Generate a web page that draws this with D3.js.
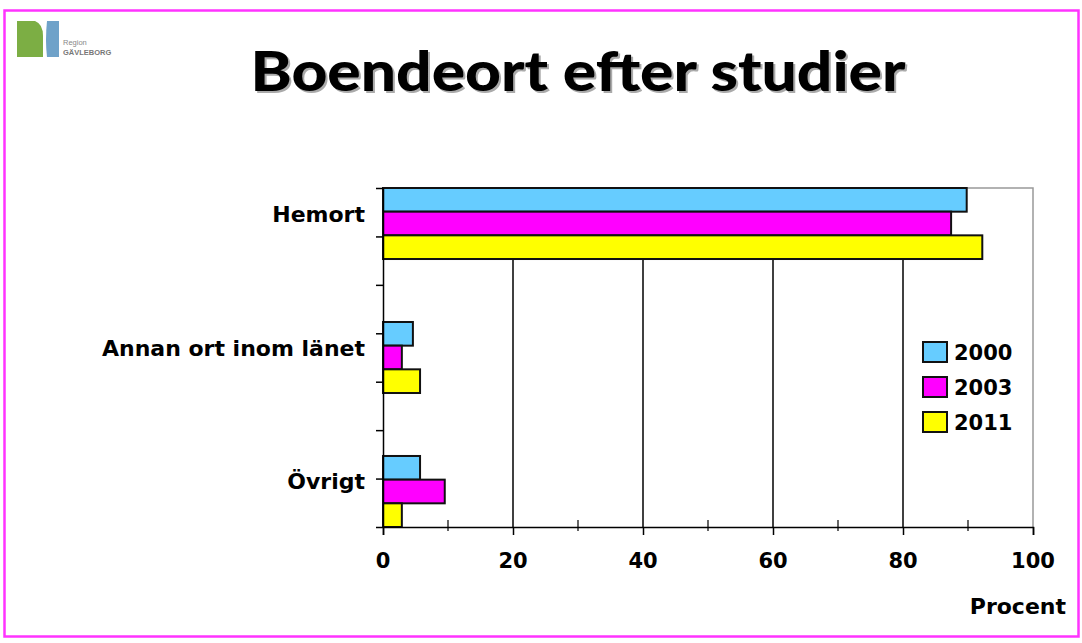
<!DOCTYPE html>
<html>
<head>
<meta charset="utf-8">
<script src="https://cdn.jsdelivr.net/npm/d3@7"></script>
<style>
  body { margin: 0; background: #fff; }
  svg { display: block; }
</style>
</head>
<body>
<svg id="chart" width="1082" height="643"></svg>
<script>
// data
var categories = ["Hemort", "Annan ort inom länet", "Övrigt"];
var years = ["2000", "2003", "2011"];
var values2000 = [89.8, 4.6, 5.7];
var values2003 = [87.4, 2.9, 9.5];
var values2011 = [92.2, 5.7, 2.9];
var xTicks = [0, 20, 40, 60, 80, 100];
var xMinorTicks = [10, 30, 50, 70, 90];
var colors = ["#66ccff", "#ff00ff", "#ffff00"];

var seriesValues = [values2000, values2003, values2011];
var rows = [];
categories.forEach(function (c, i) {
  years.forEach(function (yr, j) {
    rows.push({ cat: c, year: yr, value: seriesValues[j][i], color: colors[j] });
  });
});

var svg = d3.select("#chart");
var font = "'DejaVu Sans', Verdana, sans-serif";
var smallFont = "'Liberation Sans', Arial, sans-serif";

// page frame
svg.append("rect")
  .attr("x", 4.5).attr("y", 10.5)
  .attr("width", 1074).attr("height", 626)
  .attr("fill", "none")
  .attr("stroke", "#ff33ff")
  .attr("stroke-width", 2.5);

// logo
var logo = svg.append("g");
logo.append("path")
  .attr("d", "M17,21 H35 Q43,24 43,36 V57 H17 Z")
  .attr("fill", "#7cae44");
logo.append("path")
  .attr("d", "M47,21 H59 V57 H47 Q45,40 47,21 Z")
  .attr("fill", "#6fa2c9");
logo.append("text").attr("x", 63).attr("y", 45)
  .attr("font-family", smallFont).attr("font-size", 7.5).attr("fill", "#888")
  .text("Region");
logo.append("text").attr("x", 63).attr("y", 55)
  .attr("font-family", smallFont).attr("font-size", 7.5).attr("font-weight", "bold").attr("fill", "#777")
  .text("GÄVLEBORG");

// title with a soft shadow
var title = "Boendeort efter studier";
[["#aaa", 2], ["#000", 0]].forEach(function (s) {
  svg.append("text")
    .attr("x", 578 + s[1]).attr("y", 91 + s[1])
    .attr("text-anchor", "middle")
    .attr("font-family", "Lato, 'Open Sans', sans-serif")
    .attr("font-weight", 900)
    .attr("font-size", 56)
    .attr("fill", s[0])
    .attr("textLength", 655).attr("lengthAdjust", "spacingAndGlyphs")
    .text(title);
});

// scales
var plotLeft = 383, plotRight = 1033, plotTop = 188, plotBottom = 527;
var x = d3.scaleLinear().domain([0, 100]).range([plotLeft, plotRight]);
var y = d3.scaleBand().domain(categories).range([plotTop, plotBottom])
  .paddingInner(0.47).paddingOuter(0);
var ySub = d3.scaleBand().domain(years).range([0, y.bandwidth()]);

// plot border (top and right, gray)
svg.append("path")
  .attr("d", "M" + plotLeft + "," + plotTop + "H" + plotRight + "V" + plotBottom)
  .attr("fill", "none").attr("stroke", "#999").attr("stroke-width", 1.5);

// vertical gridlines
svg.append("g").selectAll("line")
  .data(xTicks.slice(1, -1))
  .join("line")
  .attr("x1", function (d) { return x(d); })
  .attr("x2", function (d) { return x(d); })
  .attr("y1", plotTop).attr("y2", plotBottom)
  .attr("stroke", "#000").attr("stroke-width", 1.5);

// bars
svg.append("g").selectAll("rect")
  .data(rows)
  .join("rect")
  .attr("x", x(0))
  .attr("y", function (d) { return y(d.cat) + ySub(d.year); })
  .attr("width", function (d) { return x(d.value) - x(0); })
  .attr("height", ySub.bandwidth())
  .attr("fill", function (d) { return d.color; })
  .attr("stroke", "#111")
  .attr("stroke-width", 2);

// x axis
var xAxis = svg.append("g")
  .attr("transform", "translate(0," + plotBottom + ")")
  .call(d3.axisBottom(x).tickValues(xTicks).tickSize(8).tickFormat(""));
xAxis.select(".domain").attr("stroke", "#000").attr("stroke-width", 1.5);
xAxis.selectAll(".tick line").attr("stroke", "#000").attr("stroke-width", 1.5);

svg.append("g").selectAll("line")
  .data(xMinorTicks)
  .join("line")
  .attr("x1", function (d) { return x(d); })
  .attr("x2", function (d) { return x(d); })
  .attr("y1", plotBottom - 7).attr("y2", plotBottom + 4)
  .attr("stroke", "#000").attr("stroke-width", 1.2);

svg.append("g").selectAll("text")
  .data(xTicks)
  .join("text")
  .attr("x", function (d) { return x(d); })
  .attr("y", 568)
  .attr("text-anchor", "middle")
  .attr("font-family", font).attr("font-weight", "bold").attr("font-size", 21)
  .attr("fill", "#000")
  .text(function (d) { return d; });

svg.append("text")
  .attr("x", 1066).attr("y", 614)
  .attr("text-anchor", "end")
  .attr("font-family", font).attr("font-weight", "bold").attr("font-size", 22)
  .text("Procent");

// y axis with its tick marks
var yTickScale = d3.scaleLinear().domain([0, 7]).range([plotTop, plotBottom]);
var yAxis = svg.append("g")
  .attr("transform", "translate(" + plotLeft + ",0)")
  .call(d3.axisLeft(yTickScale).ticks(7).tickSize(7).tickFormat("").tickSizeOuter(0));
yAxis.select(".domain").attr("stroke", "#000").attr("stroke-width", 1.5);
yAxis.selectAll(".tick line").attr("stroke", "#000").attr("stroke-width", 1.5);

// category labels
svg.append("g").selectAll("text")
  .data(categories)
  .join("text")
  .attr("x", 365)
  .attr("y", function (d) { return y(d) + y.bandwidth() / 2 - 2; })
  .attr("text-anchor", "end")
  .attr("font-family", font).attr("font-weight", "bold").attr("font-size", 22)
  .attr("fill", "#000")
  .text(function (d) { return d; });

// legend
var legend = svg.append("g").selectAll("g")
  .data(years)
  .join("g")
  .attr("transform", function (d, i) { return "translate(923," + (342 + i * 35) + ")"; });
legend.append("rect")
  .attr("width", 24).attr("height", 20)
  .attr("fill", function (d, i) { return colors[i]; })
  .attr("stroke", "#111").attr("stroke-width", 2);
legend.append("text")
  .attr("x", 31).attr("y", 18)
  .attr("font-family", font).attr("font-weight", "bold").attr("font-size", 21)
  .text(function (d) { return d; });
</script>
</body>
</html>
